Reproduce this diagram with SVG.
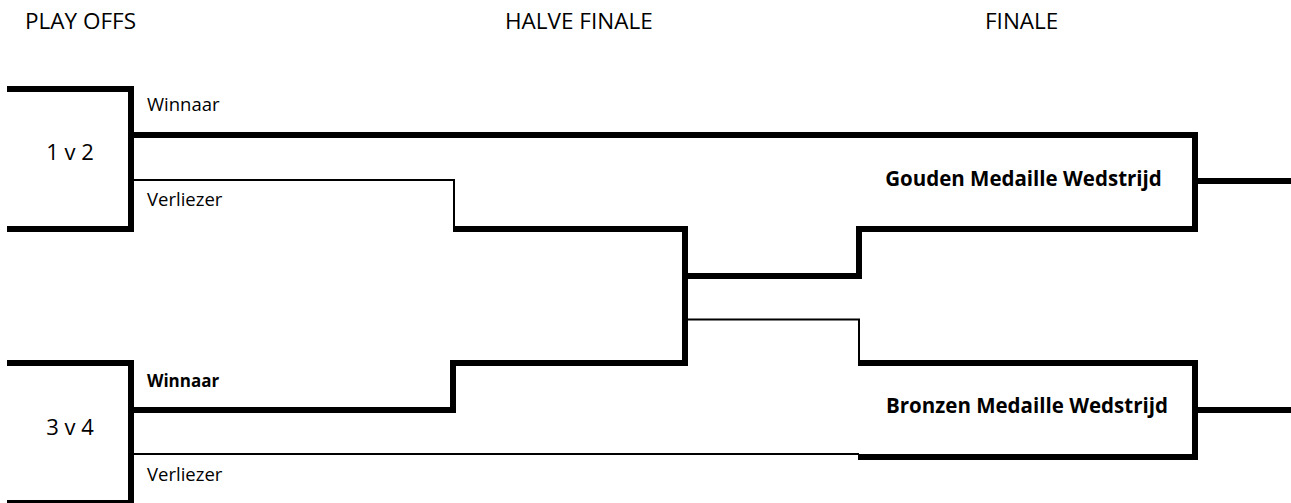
<svg xmlns="http://www.w3.org/2000/svg" width="1291" height="503" viewBox="0 0 1291 503">
  <style>
    text { font-family: "Open Sans", "Liberation Sans", sans-serif; font-size: 18.5px; fill: #000; }
    .head { font-size: 22.5px; }
    .score { font-size: 22px; }
    .b { font-weight: bold; }
    .bs { font-weight: bold; font-size: 17px; }
    .final { font-weight: bold; font-size: 20.5px; }
    .thick { fill: none; stroke: #000; stroke-width: 6; stroke-linejoin: miter; stroke-linecap: butt; }
    .thin { fill: none; stroke: #000; stroke-width: 2; stroke-linejoin: miter; stroke-linecap: butt; }
  </style>
  <rect width="1291" height="503" fill="#fff"/>

  <!-- round headings -->
  <g id="headings">
    <text class="head" x="25" y="29">PLAY OFFS</text>
    <text class="head" x="505" y="29">HALVE FINALE</text>
    <text class="head" x="985" y="29">FINALE</text>
  </g>

  <!-- play-off match 1 v 2 -->
  <g id="match-1v2">
    <path class="thick" d="M7 89 H131 V229 H7"/>
    <text class="score" x="70" y="160" text-anchor="middle">1 v 2</text>
    <text x="147" y="111">Winnaar</text>
    <text x="147" y="206">Verliezer</text>
  </g>

  <!-- play-off match 3 v 4 -->
  <g id="match-3v4">
    <path class="thick" d="M7 363 H131 V503 H7"/>
    <text class="score" x="70" y="435" text-anchor="middle">3 v 4</text>
    <text class="bs" x="147" y="387">Winnaar</text>
    <text x="147" y="481">Verliezer</text>
  </g>

  <!-- semi-final bracket -->
  <g id="semi-final">
    <path class="thick" d="M453 229 H685 V363 H453"/>
  </g>

  <!-- gold medal match -->
  <g id="gold-final">
    <path class="thick" d="M859 276 V229 H1195 V135"/>
    <path class="thick" d="M1195 181 H1291"/>
    <text class="final" x="1023.5" y="186" text-anchor="middle">Gouden Medaille Wedstrijd</text>
  </g>

  <!-- bronze medal match -->
  <g id="bronze-final">
    <path class="thick" d="M858 363 H1195 V457 H858"/>
    <path class="thick" d="M1195 410 H1291"/>
    <text class="final" x="1027" y="413" text-anchor="middle">Bronzen Medaille Wedstrijd</text>
  </g>

  <!-- connectors between matches -->
  <g id="connectors">
    <path class="thick" d="M131 135 H1198"/>
    <path class="thin" d="M131 180 H454 V229"/>
    <path class="thick" d="M131 410 H453 V360"/>
    <path class="thin" d="M131 454 H859"/>
    <path class="thick" d="M685 276 H862"/>
    <path class="thin" d="M688 319.5 H859 V363"/>
  </g>
</svg>
